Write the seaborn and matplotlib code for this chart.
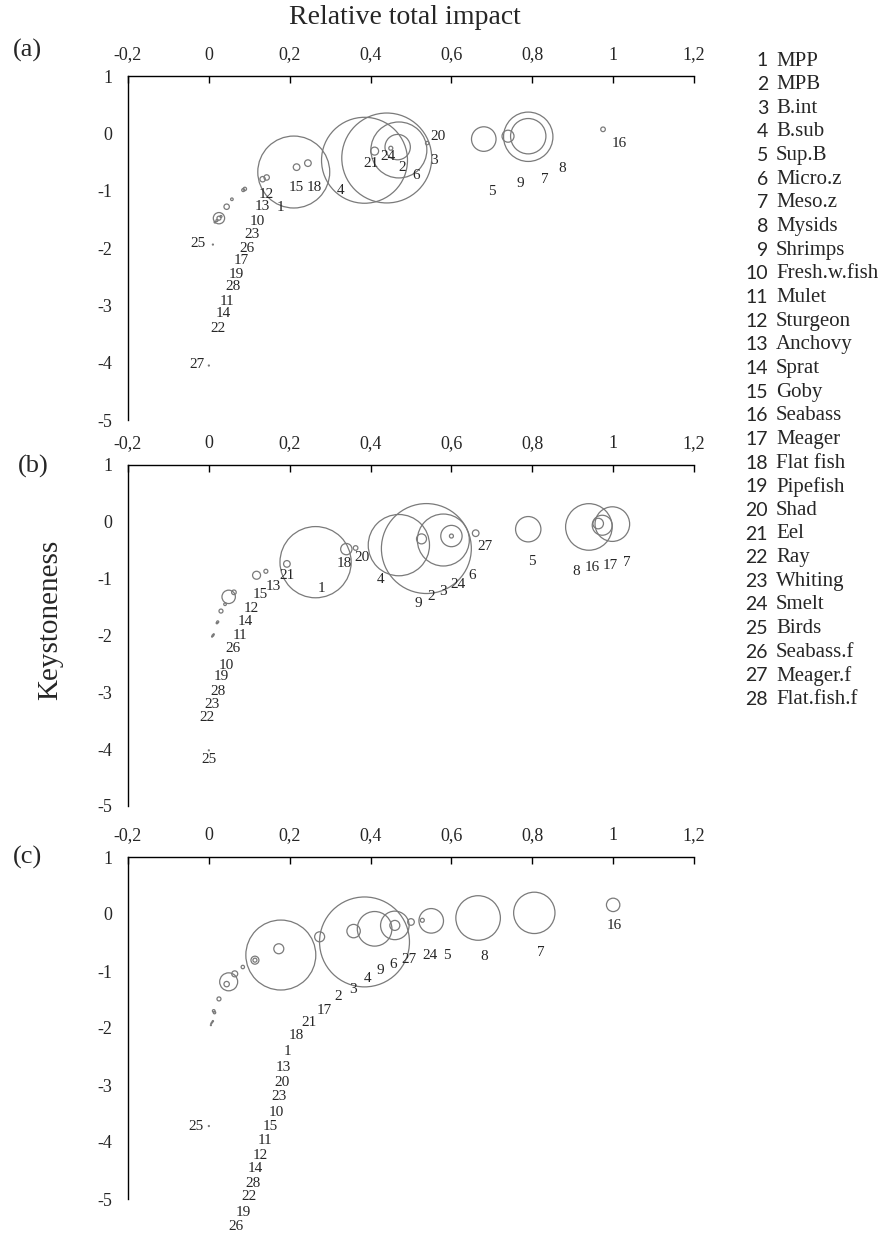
import matplotlib
matplotlib.use("Agg")
import matplotlib.pyplot as plt
import seaborn as sns
import pandas as pd

# functional groups (legend)
groups = ["MPP", "MPB", "B.int", "B.sub", "Sup.B", "Micro.z", "Meso.z", "Mysids",
          "Shrimps", "Fresh.w.fish", "Mulet", "Sturgeon", "Anchovy", "Sprat", "Goby",
          "Seabass", "Meager", "Flat fish", "Pipefish", "Shad", "Eel", "Ray",
          "Whiting", "Smelt", "Birds", "Seabass.f", "Meager.f", "Flat.fish.f"]

# (a) relative total impact, keystoneness, relative biomass, label positions
impact_a = [0.21, 0.47, 0.467, 0.385, 0.68, 0.44, 0.79, 0.79, 0.74, 0.089, 0.03, 0.133,
            0.143, 0.02, 0.217, 0.975, 0.044, 0.245, 0.025, 0.54, 0.41, 0.015, 0.085,
            0.45, 0.01, 0.057, 0.0, 0.025]
key_a = [-0.675, -0.29, -0.24, -0.47, -0.10, -0.43, -0.06, -0.05, -0.05, -0.97, -1.45,
         -0.80, -0.77, -1.52, -0.59, 0.07, -1.28, -0.52, -1.48, -0.17, -0.31, -1.55,
         -0.99, -0.26, -1.94, -1.15, -4.05, -1.48]
bio_a = [12.96, 7.84, 1.61, 18.5, 1.51, 20.25, 6.1, 3.13, 0.36, 0.029, 0.01, 0.073,
         0.073, 0.01, 0.11, 0.053, 0.073, 0.11, 0.04, 0.029, 0.16, 0.0064, 0.0225,
         0.04, 0.0025, 0.017, 0.0025, 0.32]
lab_x_a = [0.178, 0.479, 0.556, 0.326, 0.701, 0.514, 0.830, 0.874, 0.770, 0.119, 0.044,
           0.143, 0.133, 0.035, 0.217, 1.015, 0.081, 0.262, 0.069, 0.568, 0.402, 0.022,
           0.106, 0.444, -0.027, 0.094, -0.030, 0.059]
lab_y_a = [-1.30, -0.59, -0.48, -0.99, -1.01, -0.73, -0.80, -0.61, -0.88, -1.53, -2.93,
           -1.06, -1.28, -3.14, -0.94, -0.17, -2.21, -0.94, -2.46, -0.05, -0.52, -3.40,
           -1.77, -0.41, -1.93, -2.00, -4.03, -2.67]

# (b)
impact_b = [0.264, 0.538, 0.58, 0.47, 0.79, 0.60, 0.998, 0.94, 0.526, 0.022, 0.04, 0.049,
            0.141, 0.062, 0.118, 0.973, 0.963, 0.34, 0.02, 0.363, 0.193, 0.008, 0.012,
            0.60, 0.0, 0.03, 0.66, 0.01]
key_b = [-0.71, -0.47, -0.32, -0.41, -0.13, -0.25, -0.04, -0.09, -0.30, -1.76, -1.45,
         -1.32, -0.87, -1.24, -0.94, -0.06, -0.03, -0.48, -1.78, -0.46, -0.74, -2.02,
         -1.98, -0.25, -4.02, -1.57, -0.20, -2.0]
bio_b = [12.7, 20.25, 6.76, 9.4, 1.61, 1.14, 3.0, 5.43, 0.25, 0.01, 0.017, 0.45, 0.04,
         0.053, 0.16, 1.0, 0.28, 0.32, 0.0064, 0.053, 0.11, 0.0025, 0.0036, 0.04,
         0.0025, 0.04, 0.11, 0.0064]
lab_x_b = [0.279, 0.551, 0.578, 0.425, 0.798, 0.652, 1.035, 0.909, 0.519, 0.042, 0.077,
           0.106, 0.160, 0.091, 0.126, 0.948, 0.993, 0.336, 0.032, 0.380, 0.193, -0.005,
           0.007, 0.617, 0.0, 0.059, 0.684, 0.022]
lab_y_b = [-1.18, -1.32, -1.22, -1.02, -0.69, -0.94, -0.71, -0.88, -1.43, -2.52, -2.00,
           -1.52, -1.13, -1.76, -1.27, -0.81, -0.76, -0.73, -2.73, -0.62, -0.94, -3.45,
           -3.21, -1.10, -4.19, -2.22, -0.44, -2.98]

# (c)
impact_c = [0.178, 0.41, 0.46, 0.385, 0.55, 0.46, 0.805, 0.666, 0.358, 0.049, 0.025,
            0.012, 0.114, 0.014, 0.044, 1.0, 0.274, 0.114, 0.006, 0.084, 0.173, 0.008,
            0.064, 0.528, 0.0, 0.005, 0.50, 0.01]
key_c = [-0.72, -0.26, -0.20, -0.49, -0.12, -0.20, 0.02, -0.07, -0.30, -1.19, -1.49,
         -1.70, -0.81, -1.73, -1.23, 0.16, -0.40, -0.81, -1.92, -0.93, -0.61, -1.90,
         -1.05, -0.11, -3.72, -1.95, -0.14, -1.88]
bio_c = [12.25, 3.0, 0.25, 20.25, 1.51, 2.04, 4.28, 4.97, 0.45, 0.81, 0.04, 0.017, 0.04,
         0.0144, 0.073, 0.45, 0.25, 0.16, 0.0025, 0.029, 0.25, 0.0025, 0.09, 0.04,
         0.0025, 0.0025, 0.11, 0.0036]
lab_x_c = [0.195, 0.321, 0.356, 0.393, 0.588, 0.457, 0.822, 0.681, 0.425, 0.168, 0.138,
           0.128, 0.185, 0.116, 0.153, 1.002, 0.286, 0.217, 0.086, 0.180, 0.247, 0.099,
           0.173, 0.546, -0.032, 0.067, 0.496, 0.109]
lab_y_c = [-2.42, -1.44, -1.32, -1.14, -0.72, -0.88, -0.68, -0.75, -1.00, -3.49, -3.98,
           -4.23, -2.70, -4.47, -3.72, -0.21, -1.70, -2.14, -5.23, -2.95, -1.91, -4.96,
           -3.21, -0.72, -3.72, -5.49, -0.79, -4.72]

x_ticks = [-0.2, 0, 0.2, 0.4, 0.6, 0.8, 1, 1.2]
x_tick_labels = ["-0,2", "0", "0,2", "0,4", "0,6", "0,8", "1", "1,2"]
y_ticks = [1, 0, -1, -2, -3, -4, -5]
y_tick_labels = ["1", "0", "-1", "-2", "-3", "-4", "-5"]

panels = [
    ("(a)", impact_a, key_a, bio_a, lab_x_a, lab_y_a),
    ("(b)", impact_b, key_b, bio_b, lab_x_b, lab_y_b),
    ("(c)", impact_c, key_c, bio_c, lab_x_c, lab_y_c),
]

sns.set_style("white")
plt.rcParams["font.family"] = ["Liberation Serif", "DejaVu Serif"]

W, H = 893, 1234
fig = plt.figure(figsize=(W / 100, H / 100), dpi=100)

# axes boxes in pixels: (top, bottom)
boxes = [(76, 420), (465, 806), (857, 1199)]
left_px, right_px = 128, 694
panel_lab_pos = [(27, 50), (33, 466), (27, 857)]

AREA = 207.0  # marker area (pt^2) per unit of relative biomass

for (tag, xs, ys, bs, lx, ly), (top, bot), (px, py) in zip(panels, boxes, panel_lab_pos):
    ax = fig.add_axes([left_px / W, 1 - bot / H, (right_px - left_px) / W, (bot - top) / H])
    df = pd.DataFrame({"impact": xs, "key": ys, "bio": bs, "group": groups})
    sns.scatterplot(data=df, x="impact", y="key", size="bio",
                    sizes=(AREA * min(bs), AREA * max(bs)),
                    size_norm=(min(bs), max(bs)), legend=False, ax=ax, zorder=3)
    pts = ax.collections[-1]
    pts.set_facecolor("none")
    pts.set_edgecolor("#7a7a7a")
    pts.set_linewidth(0.9)

    for i in range(len(groups)):
        ax.text(lx[i], ly[i], str(i + 1), ha="center", va="center", fontsize=11)

    ax.set_xlim(-0.2, 1.2)
    ax.set_ylim(-5, 1)
    ax.xaxis.tick_top()
    ax.set_xticks(x_ticks)
    ax.set_xticklabels(x_tick_labels)
    ax.set_yticks(y_ticks)
    ax.set_yticklabels(y_tick_labels)
    ax.tick_params(axis="both", direction="in", length=5, width=1, labelsize=13,
                   color="black")
    ax.tick_params(axis="x", pad=9)
    ax.tick_params(axis="y", pad=11)
    ax.set_xlabel("")
    ax.set_ylabel("")
    for s in ["right", "bottom"]:
        ax.spines[s].set_visible(False)
    for s in ["left", "top"]:
        ax.spines[s].set_color("black")
        ax.spines[s].set_linewidth(1.0)
    ax.patch.set_alpha(0)

    fig.text(px / W, 1 - py / H, tag, ha="center", va="center", fontsize=19)

fig.text(405 / W, 1 - 17 / H, "Relative total impact", ha="center", va="center",
         fontsize=20)
fig.text(50 / W, 1 - 620 / H, "Keystoneness", ha="center", va="center",
         rotation=90, fontsize=21)

# numbered legend on the right
row0, row_step = 61, 23.65
for i, name in enumerate(groups):
    yy = 1 - (row0 + i * row_step) / H
    fig.text(768 / W, yy, str(i + 1), ha="right", va="center", fontsize=14,
             family=["Lato", "DejaVu Sans"])
    fig.text(776 / W, yy, name, ha="left", va="center", fontsize=15)

fig.savefig("out.png", dpi=100)
